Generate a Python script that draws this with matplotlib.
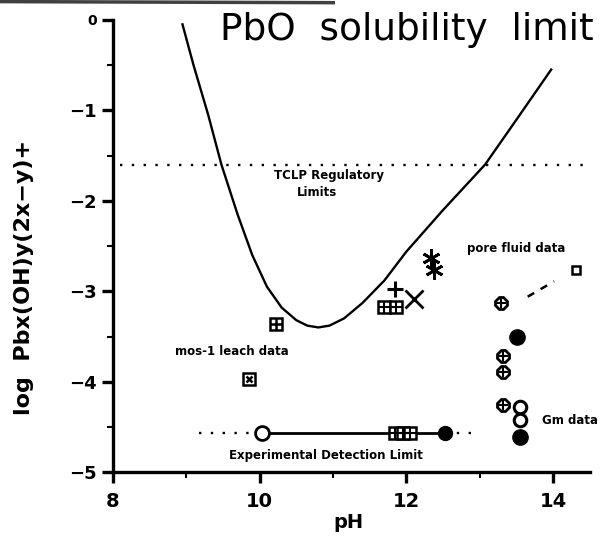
import matplotlib.pyplot as plt

# PbO solubility curve
curve_ph = [8.95, 9.1, 9.3, 9.48, 9.7, 9.9, 10.1, 10.3, 10.5, 10.65, 10.8, 10.95, 11.15, 11.4, 11.7, 12.0, 12.5, 13.07, 13.5, 13.97]
curve_log = [-0.05, -0.5, -1.05, -1.6, -2.15, -2.6, -2.95, -3.18, -3.32, -3.38, -3.4, -3.38, -3.3, -3.13, -2.88, -2.56, -2.1, -1.6, -1.1, -0.55]

# TCLP regulatory limit
tclp_ph = [8.1, 14.5]
tclp_log = [-1.6, -1.6]

# mos-1 leach data
leach_ph = [10.23]
leach_log = [-3.36]
leach2_ph = [9.86]
leach2_log = [-3.97]

# experimental detection limit
det_log = -4.57
det_dot_ph = [9.18, 10.03]
det_line_ph = [10.03, 12.53]
det_tail_ph = [12.53, 13.0]
det_open_ph = [10.03]
det_sq_ph = [11.85, 11.95, 12.05]
det_fill_ph = [12.53]

# pore fluid data
pore_sq_ph = [11.7, 11.86]
pore_sq_log = [-3.17, -3.17]
pore_plus_ph = [11.84]
pore_plus_log = [-2.98]
pore_x_ph = [12.1]
pore_x_log = [-3.09]
pore_ast_ph = [12.34, 12.38]
pore_ast_log = [-2.63, -2.76]

# right hand cluster
gear_ph = [13.29, 13.31, 13.31, 13.31]
gear_log = [-3.13, -3.72, -3.89, -4.26]
dot_ph = [13.51, 13.54]
dot_log = [-3.5, -4.61]
ring_ph = [13.54, 13.54]
ring_log = [-4.28, -4.42]
gas_ph = [14.31]
gas_log = [-2.76]
arrow_ph = [13.65, 14.01]
arrow_log = [-3.06, -2.89]

fig = plt.figure(figsize=(6.06, 5.36), dpi=100)
ax = fig.add_axes([0.186, 0.119, 0.812, 0.844])

# scan artefact along the top edge
fig.add_artist(plt.Line2D([0.0, 0.55], [0.997, 0.995], color='0.25', lw=2.5))

ax.plot(curve_ph, curve_log, color='black', lw=1.7)
ax.plot(tclp_ph, tclp_log, color='black', lw=1.7, ls=(0, (1, 4)))

# leach data
ax.plot(leach_ph, leach_log, 's', ms=9, mfc='white', mec='black', mew=1.8)
ax.plot(leach_ph, leach_log, '+', ms=8, color='black', mew=1.8)
ax.plot(leach2_ph, leach2_log, 's', ms=9, mfc='white', mec='black', mew=1.8)
ax.plot(leach2_ph, leach2_log, 'x', ms=5, color='black', mew=1.8)

# detection limit line
ax.plot(det_dot_ph, [det_log] * 2, color='black', lw=1.7, ls=(0, (1, 4)))
ax.plot(det_line_ph, [det_log] * 2, color='black', lw=2)
ax.plot(det_tail_ph, [det_log] * 2, color='black', lw=1.7, ls=(0, (1, 4)))
ax.plot(det_open_ph, [det_log], 'o', ms=10, mfc='white', mec='black', mew=2)
ax.plot(det_sq_ph, [det_log] * 3, 's', ms=9, mfc='white', mec='black', mew=1.8)
ax.plot(det_sq_ph, [det_log] * 3, '+', ms=8, color='black', mew=1.5)
ax.plot(det_fill_ph, [det_log], 'o', ms=10, color='black')

# pore fluid
ax.plot(pore_sq_ph, pore_sq_log, 's', ms=9, mfc='white', mec='black', mew=1.8)
ax.plot(pore_sq_ph, pore_sq_log, '+', ms=8, color='black', mew=1.5)
ax.plot(pore_plus_ph, pore_plus_log, '+', ms=12, color='black', mew=2.2)
ax.plot(pore_x_ph, pore_x_log, 'x', ms=13, color='black', mew=2)
ax.plot(pore_ast_ph, pore_ast_log, marker=(6, 2, 0), ls='none', ms=13, color='black', mew=2)

# right hand cluster
ax.plot(gear_ph, gear_log, '8', ms=9, mfc='white', mec='black', mew=2)
ax.plot(gear_ph, gear_log, '+', ms=7, color='black', mew=1.5)
ax.plot(dot_ph, dot_log, 'o', ms=11, color='black')
ax.plot(ring_ph, ring_log, 'o', ms=9, mfc='white', mec='black', mew=2.2)
ax.plot(gas_ph, gas_log, 's', ms=6, mfc='white', mec='black', mew=1.8, clip_on=False)
ax.plot(arrow_ph, arrow_log, color='black', lw=1.8, ls=(0, (3, 3)))

# annotations
tk = dict(fontsize=8.5, fontweight='bold', ha='center', va='center')
ax.text(10.95, -1.72, 'TCLP Regulatory', **tk)
ax.text(10.78, -1.91, 'Limits', **tk)
ax.text(9.62, -3.67, 'mos-1 leach data', **tk)
ax.text(10.9, -4.81, 'Experimental Detection Limit', **tk)
ax.text(13.5, -2.53, 'pore fluid data', **tk)
ax.text(14.22, -4.43, 'Gm data', clip_on=False, **tk)
ax.text(12.0, -0.11, 'PbO  solubility  limit', fontsize=27, ha='center', va='center', clip_on=False)

ax.set_xlim(8, 14.7)
ax.set_ylim(-5, 0)
ax.spines['top'].set_visible(False)
ax.spines['right'].set_visible(False)
ax.spines['left'].set_linewidth(2.4)
ax.spines['bottom'].set_linewidth(2.4)
ax.spines['bottom'].set_bounds(8, 14.5)

ax.set_xticks([8, 10, 12, 14])
ax.set_xticks([9, 11, 13], minor=True)
ax.set_yticks([0, -1, -2, -3, -4, -5])
ax.set_yticklabels(['0', '\u22121', '\u22122', '\u22123', '\u22124', '\u22125'])
ax.set_yticks([-0.5, -1.5, -2.5, -3.5, -4.5], minor=True)
ax.tick_params(which='major', direction='out', length=8, width=2.4, labelsize=13)
ax.tick_params(which='minor', direction='out', length=4, width=1.5)
ax.tick_params(axis='x', which='major', labelsize=14, pad=6)
for lab in ax.get_xticklabels() + ax.get_yticklabels():
    lab.set_fontweight('bold')
ax.get_yticklabels()[0].set_fontsize(10)

ax.set_xlabel('pH', fontsize=14, fontweight='bold')
ax.set_ylabel('log  Pbx(OH)y(2x\u2212y)+', fontsize=16, fontweight='bold')
ax.yaxis.set_label_coords(-0.16, 0.43)
ax.xaxis.set_label_coords(0.48, -0.09)

fig.savefig('out.png', dpi=100)
